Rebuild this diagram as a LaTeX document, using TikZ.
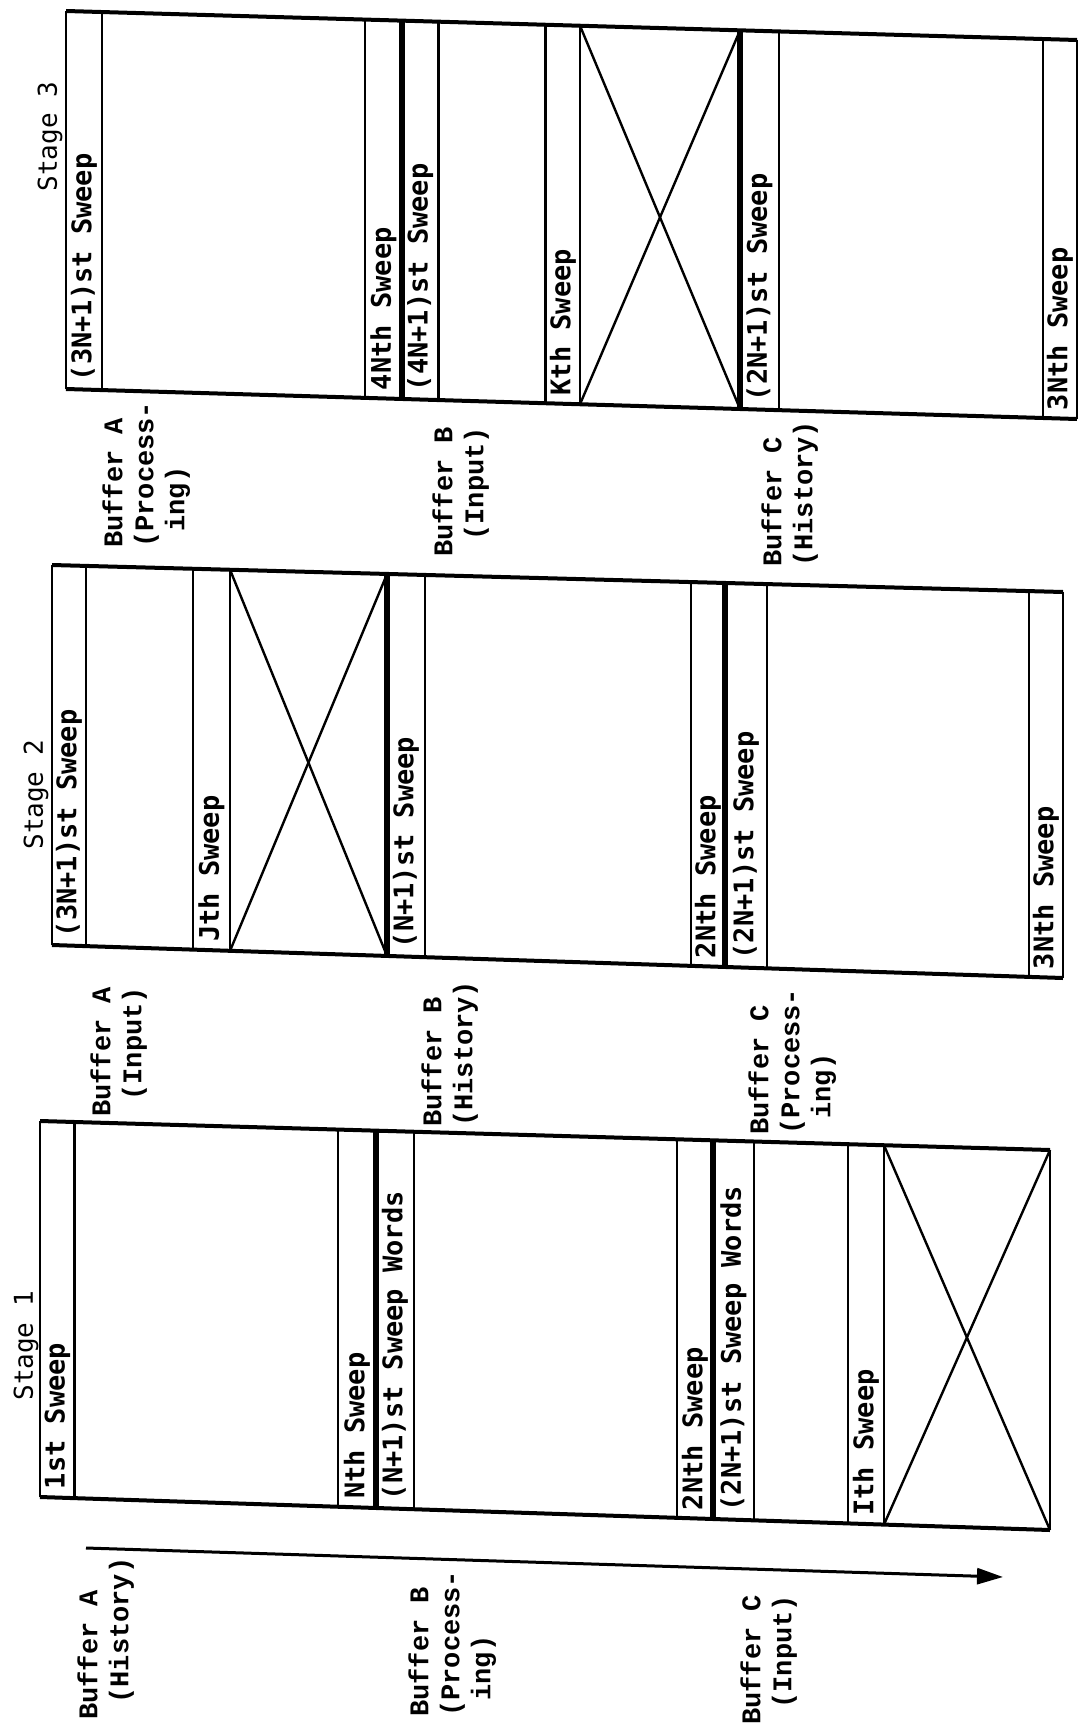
\documentclass[tikz,border=0pt]{standalone}
\usepackage{fontspec}
\usetikzlibrary{calc,arrows.meta}
\newfontfamily\bufont{Liberation Mono Bold}
\newfontfamily\swfont{DejaVu Sans Mono}
\begin{document}
\begin{tikzpicture}[x=0.5pt,y=-0.5pt,
  edge/.style={line width=2pt},
  side/.style={line width=1.4pt},
  thinln/.style={line width=1.2pt},
  thickln/.style={line width=3pt},
  sweeplab/.style={rotate=90,anchor=west,inner sep=4pt,font={\swfont\bfseries\fontsize{13.5}{16}\selectfont}},
  stagelab/.style={rotate=90,anchor=west,inner sep=0pt,font={\swfont\fontsize{13}{15}\selectfont}},
  buflab/.style={rotate=90,anchor=north west,align=left,inner sep=0pt,font={\bufont\fontsize{13.5}{15.5}\selectfont}},
  arr/.style={line width=1.5pt,-{Triangle[length=13pt,width=8pt]}}
]
\useasboundingbox (0,0) rectangle (1083,1734);

% ---------- Stage 1 ----------
\coordinate (s1TL) at (40,1121);
\coordinate (s1TR) at (1050,1150);
\coordinate (s1BL) at (40,1497);
\coordinate (s1BR) at (1050,1530);
\draw[edge] (s1TL) -- (s1TR);
\draw[edge] (s1BL) -- (s1BR);
\draw[side] (s1TL) -- (s1BL);
\draw[side] (s1TR) -- (s1BR);
\foreach \xx/\st in {74.6/thinln,338/thinln,376/thickln,414/thinln,677/thinln,713/thickln,754/thinln,848/thinln,884/thinln}{
  \pgfmathsetmacro\tfr{(\xx-40)/1010}
  \draw[\st] ($(s1TL)!\tfr!(s1TR)$) -- ($(s1BL)!\tfr!(s1BR)$);
}
\draw[thinln] ($(s1TL)!0.8356!(s1TR)$) -- (s1BR);
\draw[thinln] ($(s1BL)!0.8356!(s1BR)$) -- (s1TR);
\foreach \xa/\xb/\lab [count=\i] in {40/74.6/1st Sweep,338/376/Nth Sweep,376/414/(N+1)st Sweep Words,677/713/2Nth Sweep,713/754/(2N+1)st Sweep Words,848/884/Ith Sweep}{
  \pgfmathsetmacro\tfr{((\xa+\xb)/2-40)/1010}
  \node[sweeplab] (s1w\i) at ($(s1BL)!\tfr!(s1BR)$) {\lab};
}
\node[stagelab] (st1) at (26,1401) {Stage 1};

% ---------- Stage 2 ----------
\coordinate (s2TL) at (52,565);
\coordinate (s2TR) at (1063,592);
\coordinate (s2BL) at (52,945);
\coordinate (s2BR) at (1063,978);
\draw[edge] (s2TL) -- (s2TR);
\draw[edge] (s2BL) -- (s2BR);
\draw[side] (s2TL) -- (s2BL);
\draw[side] (s2TR) -- (s2BR);
\foreach \xx/\st in {86/thinln,193/thinln,230/thinln,387/thickln,425/thinln,691/thinln,725/thickln,767/thinln,1029/thinln}{
  \pgfmathsetmacro\tfr{(\xx-52)/1011}
  \draw[\st] ($(s2TL)!\tfr!(s2TR)$) -- ($(s2BL)!\tfr!(s2BR)$);
}
\draw[thinln] ($(s2TL)!0.1761!(s2TR)$) -- ($(s2BL)!0.3314!(s2BR)$);
\draw[thinln] ($(s2BL)!0.1761!(s2BR)$) -- ($(s2TL)!0.3314!(s2TR)$);
\foreach \xa/\xb/\lab [count=\i] in {52/86/(3N+1)st Sweep,193/230/Jth Sweep,387/425/(N+1)st Sweep,691/725/2Nth Sweep,725/767/(2N+1)st Sweep,1029/1063/3Nth Sweep}{
  \pgfmathsetmacro\tfr{((\xa+\xb)/2-52)/1011}
  \node[sweeplab] (s2w\i) at ($(s2BL)!\tfr!(s2BR)$) {\lab};
}
\node[stagelab] (st2) at (36,850) {Stage 2};

% ---------- Stage 3 ----------
\coordinate (s3TL) at (66,11);
\coordinate (s3TR) at (1077,40);
\coordinate (s3BL) at (66,389);
\coordinate (s3BR) at (1077,419);
\draw[edge] (s3TL) -- (s3TR);
\draw[edge] (s3BL) -- (s3BR);
\draw[side] (s3TL) -- (s3BL);
\draw[side] (s3TR) -- (s3BR);
\foreach \xx/\st in {102/thinln,365/thinln,402/thickln,438.5/thinln,545.6/thinln,580/thinln,740/thickln,779/thinln,1043/thinln}{
  \pgfmathsetmacro\tfr{(\xx-66)/1011}
  \draw[\st] ($(s3TL)!\tfr!(s3TR)$) -- ($(s3BL)!\tfr!(s3BR)$);
}
\draw[thinln] ($(s3TL)!0.5084!(s3TR)$) -- ($(s3BL)!0.6667!(s3BR)$);
\draw[thinln] ($(s3BL)!0.5084!(s3BR)$) -- ($(s3TL)!0.6667!(s3TR)$);
\foreach \xa/\xb/\lab [count=\i] in {66/102/(3N+1)st Sweep,365/402/4Nth Sweep,402/438.5/(4N+1)st Sweep,545.6/580/Kth Sweep,740/779/(2N+1)st Sweep,1043/1077/3Nth Sweep}{
  \pgfmathsetmacro\tfr{((\xa+\xb)/2-66)/1011}
  \node[sweeplab] (s3w\i) at ($(s3BL)!\tfr!(s3BR)$) {\lab};
}
\node[stagelab] (st3) at (50,192) {Stage 3};

% ---------- Buffer labels ----------
\node[buflab] (bA1) at (77,1720) {Buffer A\\\hspace*{0.6em}(History)};
\node[buflab] (bB1) at (408,1717) {Buffer B\\(Process-\\\hspace*{0.6em}ing)};
\node[buflab] (bC1) at (740,1725) {Buffer C\\\hspace*{0.6em}(Input)};

\node[buflab] (bA2) at (90,1117) {Buffer A\\\hspace*{0.6em}(Input)};
\node[buflab] (bB2) at (421,1127) {Buffer B\\(History)};
\node[buflab] (bC2) at (748,1135) {Buffer C\\(Process-\\\hspace*{0.6em}ing)};

\node[buflab] (bA3) at (102,548) {Buffer A\\(Process-\\\hspace*{0.6em}ing)};
\node[buflab] (bB3) at (432,557) {Buffer B\\\hspace*{0.6em}(Input)};
\node[buflab] (bC3) at (761,567) {Buffer C\\(History)};

% ---------- Arrow ----------
\coordinate (a0) at (86,1548);
\coordinate (a1) at (1003,1577);
\draw[arr] (a0) -- (a1);
\end{tikzpicture}
\end{document}
